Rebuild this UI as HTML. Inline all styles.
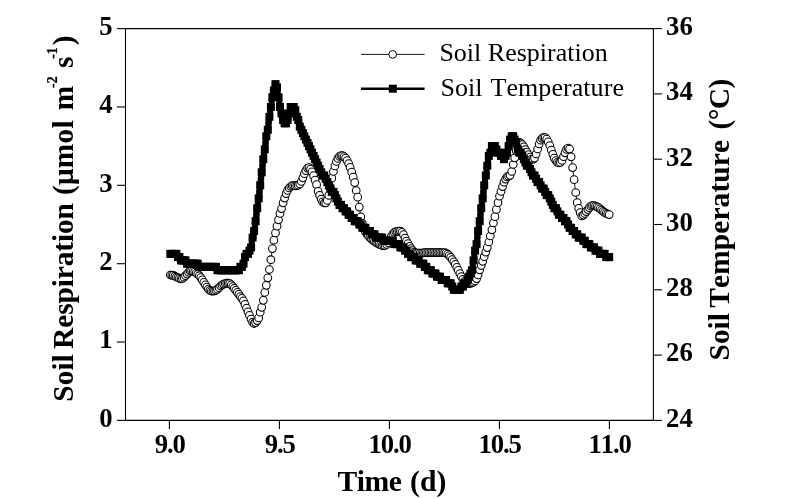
<!DOCTYPE html>
<html lang="en"><head><meta charset="utf-8"><title>Soil Respiration and Soil Temperature</title>
<style>html,body{margin:0;padding:0;background:#fff}svg{display:block}svg{filter:grayscale(1)}text{font-family:"Liberation Serif","Times New Roman",Times,serif;fill:#000;font-kerning:none}.b{font-weight:bold}</style></head><body>
<svg width="800" height="499" viewBox="0 0 800 499">
<rect width="800" height="499" fill="#fff"/>
<polyline fill="none" stroke="#000" stroke-width="0.9" points="170.3,275.0 171.8,275.1 173.3,275.4 174.9,276.2 176.4,277.0 177.9,277.7 179.4,278.4 181.0,278.8 182.5,278.4 184.0,277.2 185.5,275.7 187.1,274.1 188.6,272.3 190.1,271.0 191.6,270.9 193.2,271.4 194.7,272.1 196.2,273.0 197.7,274.2 199.3,275.7 200.8,277.6 202.3,279.9 203.8,282.4 205.4,284.8 206.9,287.0 208.4,289.0 209.9,290.3 211.4,291.0 213.0,291.1 214.5,290.9 216.0,290.2 217.5,289.2 219.1,287.7 220.6,286.0 222.1,284.9 223.6,284.1 225.2,283.5 226.7,283.2 228.2,283.2 229.7,283.6 231.3,284.8 232.8,286.5 234.3,288.4 235.8,290.3 237.4,292.3 238.9,294.4 240.4,296.5 241.9,298.3 243.5,300.8 245.0,304.4 246.5,308.1 248.0,311.8 249.5,315.4 251.1,319.1 252.6,322.2 254.1,323.5 255.6,322.6 257.2,320.6 258.7,317.9 260.2,312.2 261.7,307.3 263.3,300.3 264.8,292.4 266.3,285.3 267.8,277.8 269.4,269.5 270.9,259.7 272.4,248.6 273.9,240.2 275.5,232.9 277.0,226.2 278.5,219.8 280.0,213.4 281.5,208.6 283.1,202.8 284.6,198.1 286.1,193.6 287.6,190.4 289.2,188.0 290.7,186.5 292.2,185.7 293.7,185.7 295.3,185.9 296.8,185.7 298.3,185.2 299.8,183.9 301.4,181.4 302.9,177.8 304.4,173.7 305.9,170.6 307.5,168.1 309.0,167.5 310.5,169.2 312.0,171.8 313.6,175.7 315.1,180.2 316.6,184.7 318.1,191.3 319.6,195.4 321.2,199.0 322.7,201.9 324.2,203.0 325.7,202.8 327.3,200.4 328.8,195.4 330.3,187.0 331.8,178.2 333.4,171.5 334.9,166.0 336.4,161.5 337.9,158.4 339.5,156.4 341.0,155.6 342.5,155.7 344.0,156.6 345.6,158.2 347.1,160.5 348.6,163.6 350.1,167.3 351.7,172.2 353.2,177.2 354.7,182.6 356.2,190.5 357.7,197.2 359.3,207.1 360.8,216.8 362.3,223.4 363.8,228.3 365.4,231.6 366.9,234.1 368.4,236.0 369.9,237.6 371.5,239.1 373.0,240.3 374.5,241.4 376.0,242.4 377.6,243.3 379.1,244.1 380.6,244.8 382.1,245.4 383.7,245.6 385.2,245.5 386.7,244.5 388.2,242.7 389.8,239.6 391.3,236.4 392.8,234.1 394.3,232.4 395.8,231.6 397.4,231.3 398.9,231.1 400.4,231.2 401.9,232.3 403.5,234.7 405.0,238.0 406.5,241.0 408.0,243.7 409.6,246.3 411.1,248.7 412.6,250.6 414.1,252.0 415.7,252.8 417.2,253.1 418.7,253.2 420.2,253.2 421.8,253.0 423.3,252.8 424.8,252.7 426.3,252.5 427.8,252.5 429.4,252.5 430.9,252.5 432.4,252.5 433.9,252.5 435.5,252.5 437.0,252.5 438.5,252.5 440.0,252.5 441.6,252.5 443.1,252.5 444.6,252.7 446.1,253.2 447.7,254.2 449.2,255.6 450.7,257.4 452.2,259.5 453.8,261.8 455.3,264.4 456.8,267.4 458.3,270.4 459.9,273.5 461.4,276.5 462.9,279.3 464.4,281.4 465.9,282.5 467.5,283.2 469.0,283.5 470.5,283.4 472.0,282.9 473.6,282.2 475.1,280.9 476.6,278.6 478.1,274.9 479.7,269.8 481.2,265.5 482.7,261.3 484.2,256.7 485.8,252.1 487.3,247.6 488.8,242.0 490.3,236.0 491.9,229.8 493.4,223.0 494.9,216.7 496.4,209.4 498.0,202.7 499.5,196.2 501.0,191.4 502.5,186.6 504.0,182.2 505.6,179.1 507.1,176.9 508.6,176.2 510.1,175.3 511.7,171.5 513.2,164.5 514.7,157.8 516.2,150.7 517.8,145.2 519.3,142.4 520.8,143.1 522.3,144.7 523.9,146.9 525.4,149.5 526.9,152.0 528.4,154.5 530.0,157.0 531.5,159.0 533.0,159.3 534.5,158.1 536.1,154.0 537.6,149.0 539.1,144.0 540.6,140.2 542.1,138.3 543.7,137.4 545.2,137.7 546.7,139.2 548.2,141.9 549.8,145.5 551.3,150.0 552.8,154.3 554.3,158.1 555.9,160.6 557.4,162.3 558.9,163.0 560.4,162.5 562.0,160.4 563.5,156.7 565.0,152.8 566.5,149.4 568.1,148.1 569.6,149.1 571.1,156.8 572.6,167.6 574.1,179.7 575.7,192.5 577.2,202.7 578.7,208.4 580.2,212.7 581.8,216.0 583.3,215.1 584.8,213.4 586.3,211.6 587.9,209.6 589.4,207.7 590.9,206.2 592.4,205.5 594.0,205.6 595.5,206.1 597.0,206.8 598.5,207.7 600.1,208.8 601.6,210.1 603.1,211.4 604.6,212.4 606.2,213.3 607.7,214.0 609.2,214.6"/>
<g fill="#fff" stroke="#000" stroke-width="1.05">
<circle cx="170.3" cy="275.0" r="3.85"/>
<circle cx="171.8" cy="275.1" r="3.85"/>
<circle cx="173.3" cy="275.4" r="3.85"/>
<circle cx="174.9" cy="276.2" r="3.85"/>
<circle cx="176.4" cy="277.0" r="3.85"/>
<circle cx="177.9" cy="277.7" r="3.85"/>
<circle cx="179.4" cy="278.4" r="3.85"/>
<circle cx="181.0" cy="278.8" r="3.85"/>
<circle cx="182.5" cy="278.4" r="3.85"/>
<circle cx="184.0" cy="277.2" r="3.85"/>
<circle cx="185.5" cy="275.7" r="3.85"/>
<circle cx="187.1" cy="274.1" r="3.85"/>
<circle cx="188.6" cy="272.3" r="3.85"/>
<circle cx="190.1" cy="271.0" r="3.85"/>
<circle cx="191.6" cy="270.9" r="3.85"/>
<circle cx="193.2" cy="271.4" r="3.85"/>
<circle cx="194.7" cy="272.1" r="3.85"/>
<circle cx="196.2" cy="273.0" r="3.85"/>
<circle cx="197.7" cy="274.2" r="3.85"/>
<circle cx="199.3" cy="275.7" r="3.85"/>
<circle cx="200.8" cy="277.6" r="3.85"/>
<circle cx="202.3" cy="279.9" r="3.85"/>
<circle cx="203.8" cy="282.4" r="3.85"/>
<circle cx="205.4" cy="284.8" r="3.85"/>
<circle cx="206.9" cy="287.0" r="3.85"/>
<circle cx="208.4" cy="289.0" r="3.85"/>
<circle cx="209.9" cy="290.3" r="3.85"/>
<circle cx="211.4" cy="291.0" r="3.85"/>
<circle cx="213.0" cy="291.1" r="3.85"/>
<circle cx="214.5" cy="290.9" r="3.85"/>
<circle cx="216.0" cy="290.2" r="3.85"/>
<circle cx="217.5" cy="289.2" r="3.85"/>
<circle cx="219.1" cy="287.7" r="3.85"/>
<circle cx="220.6" cy="286.0" r="3.85"/>
<circle cx="222.1" cy="284.9" r="3.85"/>
<circle cx="223.6" cy="284.1" r="3.85"/>
<circle cx="225.2" cy="283.5" r="3.85"/>
<circle cx="226.7" cy="283.2" r="3.85"/>
<circle cx="228.2" cy="283.2" r="3.85"/>
<circle cx="229.7" cy="283.6" r="3.85"/>
<circle cx="231.3" cy="284.8" r="3.85"/>
<circle cx="232.8" cy="286.5" r="3.85"/>
<circle cx="234.3" cy="288.4" r="3.85"/>
<circle cx="235.8" cy="290.3" r="3.85"/>
<circle cx="237.4" cy="292.3" r="3.85"/>
<circle cx="238.9" cy="294.4" r="3.85"/>
<circle cx="240.4" cy="296.5" r="3.85"/>
<circle cx="241.9" cy="298.3" r="3.85"/>
<circle cx="243.5" cy="300.8" r="3.85"/>
<circle cx="245.0" cy="304.4" r="3.85"/>
<circle cx="246.5" cy="308.1" r="3.85"/>
<circle cx="248.0" cy="311.8" r="3.85"/>
<circle cx="249.5" cy="315.4" r="3.85"/>
<circle cx="251.1" cy="319.1" r="3.85"/>
<circle cx="252.6" cy="322.2" r="3.85"/>
<circle cx="254.1" cy="323.5" r="3.85"/>
<circle cx="255.6" cy="322.6" r="3.85"/>
<circle cx="257.2" cy="320.6" r="3.85"/>
<circle cx="258.7" cy="317.9" r="3.85"/>
<circle cx="260.2" cy="312.2" r="3.85"/>
<circle cx="261.7" cy="307.3" r="3.85"/>
<circle cx="263.3" cy="300.3" r="3.85"/>
<circle cx="264.8" cy="292.4" r="3.85"/>
<circle cx="266.3" cy="285.3" r="3.85"/>
<circle cx="267.8" cy="277.8" r="3.85"/>
<circle cx="269.4" cy="269.5" r="3.85"/>
<circle cx="270.9" cy="259.7" r="3.85"/>
<circle cx="272.4" cy="248.6" r="3.85"/>
<circle cx="273.9" cy="240.2" r="3.85"/>
<circle cx="275.5" cy="232.9" r="3.85"/>
<circle cx="277.0" cy="226.2" r="3.85"/>
<circle cx="278.5" cy="219.8" r="3.85"/>
<circle cx="280.0" cy="213.4" r="3.85"/>
<circle cx="281.5" cy="208.6" r="3.85"/>
<circle cx="283.1" cy="202.8" r="3.85"/>
<circle cx="284.6" cy="198.1" r="3.85"/>
<circle cx="286.1" cy="193.6" r="3.85"/>
<circle cx="287.6" cy="190.4" r="3.85"/>
<circle cx="289.2" cy="188.0" r="3.85"/>
<circle cx="290.7" cy="186.5" r="3.85"/>
<circle cx="292.2" cy="185.7" r="3.85"/>
<circle cx="293.7" cy="185.7" r="3.85"/>
<circle cx="295.3" cy="185.9" r="3.85"/>
<circle cx="296.8" cy="185.7" r="3.85"/>
<circle cx="298.3" cy="185.2" r="3.85"/>
<circle cx="299.8" cy="183.9" r="3.85"/>
<circle cx="301.4" cy="181.4" r="3.85"/>
<circle cx="302.9" cy="177.8" r="3.85"/>
<circle cx="304.4" cy="173.7" r="3.85"/>
<circle cx="305.9" cy="170.6" r="3.85"/>
<circle cx="307.5" cy="168.1" r="3.85"/>
<circle cx="309.0" cy="167.5" r="3.85"/>
<circle cx="310.5" cy="169.2" r="3.85"/>
<circle cx="312.0" cy="171.8" r="3.85"/>
<circle cx="313.6" cy="175.7" r="3.85"/>
<circle cx="315.1" cy="180.2" r="3.85"/>
<circle cx="316.6" cy="184.7" r="3.85"/>
<circle cx="318.1" cy="191.3" r="3.85"/>
<circle cx="319.6" cy="195.4" r="3.85"/>
<circle cx="321.2" cy="199.0" r="3.85"/>
<circle cx="322.7" cy="201.9" r="3.85"/>
<circle cx="324.2" cy="203.0" r="3.85"/>
<circle cx="325.7" cy="202.8" r="3.85"/>
<circle cx="327.3" cy="200.4" r="3.85"/>
<circle cx="328.8" cy="195.4" r="3.85"/>
<circle cx="330.3" cy="187.0" r="3.85"/>
<circle cx="331.8" cy="178.2" r="3.85"/>
<circle cx="333.4" cy="171.5" r="3.85"/>
<circle cx="334.9" cy="166.0" r="3.85"/>
<circle cx="336.4" cy="161.5" r="3.85"/>
<circle cx="337.9" cy="158.4" r="3.85"/>
<circle cx="339.5" cy="156.4" r="3.85"/>
<circle cx="341.0" cy="155.6" r="3.85"/>
<circle cx="342.5" cy="155.7" r="3.85"/>
<circle cx="344.0" cy="156.6" r="3.85"/>
<circle cx="345.6" cy="158.2" r="3.85"/>
<circle cx="347.1" cy="160.5" r="3.85"/>
<circle cx="348.6" cy="163.6" r="3.85"/>
<circle cx="350.1" cy="167.3" r="3.85"/>
<circle cx="351.7" cy="172.2" r="3.85"/>
<circle cx="353.2" cy="177.2" r="3.85"/>
<circle cx="354.7" cy="182.6" r="3.85"/>
<circle cx="356.2" cy="190.5" r="3.85"/>
<circle cx="357.7" cy="197.2" r="3.85"/>
<circle cx="359.3" cy="207.1" r="3.85"/>
<circle cx="360.8" cy="216.8" r="3.85"/>
<circle cx="362.3" cy="223.4" r="3.85"/>
<circle cx="363.8" cy="228.3" r="3.85"/>
<circle cx="365.4" cy="231.6" r="3.85"/>
<circle cx="366.9" cy="234.1" r="3.85"/>
<circle cx="368.4" cy="236.0" r="3.85"/>
<circle cx="369.9" cy="237.6" r="3.85"/>
<circle cx="371.5" cy="239.1" r="3.85"/>
<circle cx="373.0" cy="240.3" r="3.85"/>
<circle cx="374.5" cy="241.4" r="3.85"/>
<circle cx="376.0" cy="242.4" r="3.85"/>
<circle cx="377.6" cy="243.3" r="3.85"/>
<circle cx="379.1" cy="244.1" r="3.85"/>
<circle cx="380.6" cy="244.8" r="3.85"/>
<circle cx="382.1" cy="245.4" r="3.85"/>
<circle cx="383.7" cy="245.6" r="3.85"/>
<circle cx="385.2" cy="245.5" r="3.85"/>
<circle cx="386.7" cy="244.5" r="3.85"/>
<circle cx="388.2" cy="242.7" r="3.85"/>
<circle cx="389.8" cy="239.6" r="3.85"/>
<circle cx="391.3" cy="236.4" r="3.85"/>
<circle cx="392.8" cy="234.1" r="3.85"/>
<circle cx="394.3" cy="232.4" r="3.85"/>
<circle cx="395.8" cy="231.6" r="3.85"/>
<circle cx="397.4" cy="231.3" r="3.85"/>
<circle cx="398.9" cy="231.1" r="3.85"/>
<circle cx="400.4" cy="231.2" r="3.85"/>
<circle cx="401.9" cy="232.3" r="3.85"/>
<circle cx="403.5" cy="234.7" r="3.85"/>
<circle cx="405.0" cy="238.0" r="3.85"/>
<circle cx="406.5" cy="241.0" r="3.85"/>
<circle cx="408.0" cy="243.7" r="3.85"/>
<circle cx="409.6" cy="246.3" r="3.85"/>
<circle cx="411.1" cy="248.7" r="3.85"/>
<circle cx="412.6" cy="250.6" r="3.85"/>
<circle cx="414.1" cy="252.0" r="3.85"/>
<circle cx="415.7" cy="252.8" r="3.85"/>
<circle cx="417.2" cy="253.1" r="3.85"/>
<circle cx="418.7" cy="253.2" r="3.85"/>
<circle cx="420.2" cy="253.2" r="3.85"/>
<circle cx="421.8" cy="253.0" r="3.85"/>
<circle cx="423.3" cy="252.8" r="3.85"/>
<circle cx="424.8" cy="252.7" r="3.85"/>
<circle cx="426.3" cy="252.5" r="3.85"/>
<circle cx="427.8" cy="252.5" r="3.85"/>
<circle cx="429.4" cy="252.5" r="3.85"/>
<circle cx="430.9" cy="252.5" r="3.85"/>
<circle cx="432.4" cy="252.5" r="3.85"/>
<circle cx="433.9" cy="252.5" r="3.85"/>
<circle cx="435.5" cy="252.5" r="3.85"/>
<circle cx="437.0" cy="252.5" r="3.85"/>
<circle cx="438.5" cy="252.5" r="3.85"/>
<circle cx="440.0" cy="252.5" r="3.85"/>
<circle cx="441.6" cy="252.5" r="3.85"/>
<circle cx="443.1" cy="252.5" r="3.85"/>
<circle cx="444.6" cy="252.7" r="3.85"/>
<circle cx="446.1" cy="253.2" r="3.85"/>
<circle cx="447.7" cy="254.2" r="3.85"/>
<circle cx="449.2" cy="255.6" r="3.85"/>
<circle cx="450.7" cy="257.4" r="3.85"/>
<circle cx="452.2" cy="259.5" r="3.85"/>
<circle cx="453.8" cy="261.8" r="3.85"/>
<circle cx="455.3" cy="264.4" r="3.85"/>
<circle cx="456.8" cy="267.4" r="3.85"/>
<circle cx="458.3" cy="270.4" r="3.85"/>
<circle cx="459.9" cy="273.5" r="3.85"/>
<circle cx="461.4" cy="276.5" r="3.85"/>
<circle cx="462.9" cy="279.3" r="3.85"/>
<circle cx="464.4" cy="281.4" r="3.85"/>
<circle cx="465.9" cy="282.5" r="3.85"/>
<circle cx="467.5" cy="283.2" r="3.85"/>
<circle cx="469.0" cy="283.5" r="3.85"/>
<circle cx="470.5" cy="283.4" r="3.85"/>
<circle cx="472.0" cy="282.9" r="3.85"/>
<circle cx="473.6" cy="282.2" r="3.85"/>
<circle cx="475.1" cy="280.9" r="3.85"/>
<circle cx="476.6" cy="278.6" r="3.85"/>
<circle cx="478.1" cy="274.9" r="3.85"/>
<circle cx="479.7" cy="269.8" r="3.85"/>
<circle cx="481.2" cy="265.5" r="3.85"/>
<circle cx="482.7" cy="261.3" r="3.85"/>
<circle cx="484.2" cy="256.7" r="3.85"/>
<circle cx="485.8" cy="252.1" r="3.85"/>
<circle cx="487.3" cy="247.6" r="3.85"/>
<circle cx="488.8" cy="242.0" r="3.85"/>
<circle cx="490.3" cy="236.0" r="3.85"/>
<circle cx="491.9" cy="229.8" r="3.85"/>
<circle cx="493.4" cy="223.0" r="3.85"/>
<circle cx="494.9" cy="216.7" r="3.85"/>
<circle cx="496.4" cy="209.4" r="3.85"/>
<circle cx="498.0" cy="202.7" r="3.85"/>
<circle cx="499.5" cy="196.2" r="3.85"/>
<circle cx="501.0" cy="191.4" r="3.85"/>
<circle cx="502.5" cy="186.6" r="3.85"/>
<circle cx="504.0" cy="182.2" r="3.85"/>
<circle cx="505.6" cy="179.1" r="3.85"/>
<circle cx="507.1" cy="176.9" r="3.85"/>
<circle cx="508.6" cy="176.2" r="3.85"/>
<circle cx="510.1" cy="175.3" r="3.85"/>
<circle cx="511.7" cy="171.5" r="3.85"/>
<circle cx="513.2" cy="164.5" r="3.85"/>
<circle cx="514.7" cy="157.8" r="3.85"/>
<circle cx="516.2" cy="150.7" r="3.85"/>
<circle cx="517.8" cy="145.2" r="3.85"/>
<circle cx="519.3" cy="142.4" r="3.85"/>
<circle cx="520.8" cy="143.1" r="3.85"/>
<circle cx="522.3" cy="144.7" r="3.85"/>
<circle cx="523.9" cy="146.9" r="3.85"/>
<circle cx="525.4" cy="149.5" r="3.85"/>
<circle cx="526.9" cy="152.0" r="3.85"/>
<circle cx="528.4" cy="154.5" r="3.85"/>
<circle cx="530.0" cy="157.0" r="3.85"/>
<circle cx="531.5" cy="159.0" r="3.85"/>
<circle cx="533.0" cy="159.3" r="3.85"/>
<circle cx="534.5" cy="158.1" r="3.85"/>
<circle cx="536.1" cy="154.0" r="3.85"/>
<circle cx="537.6" cy="149.0" r="3.85"/>
<circle cx="539.1" cy="144.0" r="3.85"/>
<circle cx="540.6" cy="140.2" r="3.85"/>
<circle cx="542.1" cy="138.3" r="3.85"/>
<circle cx="543.7" cy="137.4" r="3.85"/>
<circle cx="545.2" cy="137.7" r="3.85"/>
<circle cx="546.7" cy="139.2" r="3.85"/>
<circle cx="548.2" cy="141.9" r="3.85"/>
<circle cx="549.8" cy="145.5" r="3.85"/>
<circle cx="551.3" cy="150.0" r="3.85"/>
<circle cx="552.8" cy="154.3" r="3.85"/>
<circle cx="554.3" cy="158.1" r="3.85"/>
<circle cx="555.9" cy="160.6" r="3.85"/>
<circle cx="557.4" cy="162.3" r="3.85"/>
<circle cx="558.9" cy="163.0" r="3.85"/>
<circle cx="560.4" cy="162.5" r="3.85"/>
<circle cx="562.0" cy="160.4" r="3.85"/>
<circle cx="563.5" cy="156.7" r="3.85"/>
<circle cx="565.0" cy="152.8" r="3.85"/>
<circle cx="566.5" cy="149.4" r="3.85"/>
<circle cx="568.1" cy="148.1" r="3.85"/>
<circle cx="569.6" cy="149.1" r="3.85"/>
<circle cx="571.1" cy="156.8" r="3.85"/>
<circle cx="572.6" cy="167.6" r="3.85"/>
<circle cx="574.1" cy="179.7" r="3.85"/>
<circle cx="575.7" cy="192.5" r="3.85"/>
<circle cx="577.2" cy="202.7" r="3.85"/>
<circle cx="578.7" cy="208.4" r="3.85"/>
<circle cx="580.2" cy="212.7" r="3.85"/>
<circle cx="581.8" cy="216.0" r="3.85"/>
<circle cx="583.3" cy="215.1" r="3.85"/>
<circle cx="584.8" cy="213.4" r="3.85"/>
<circle cx="586.3" cy="211.6" r="3.85"/>
<circle cx="587.9" cy="209.6" r="3.85"/>
<circle cx="589.4" cy="207.7" r="3.85"/>
<circle cx="590.9" cy="206.2" r="3.85"/>
<circle cx="592.4" cy="205.5" r="3.85"/>
<circle cx="594.0" cy="205.6" r="3.85"/>
<circle cx="595.5" cy="206.1" r="3.85"/>
<circle cx="597.0" cy="206.8" r="3.85"/>
<circle cx="598.5" cy="207.7" r="3.85"/>
<circle cx="600.1" cy="208.8" r="3.85"/>
<circle cx="601.6" cy="210.1" r="3.85"/>
<circle cx="603.1" cy="211.4" r="3.85"/>
<circle cx="604.6" cy="212.4" r="3.85"/>
<circle cx="606.2" cy="213.3" r="3.85"/>
<circle cx="607.7" cy="214.0" r="3.85"/>
<circle cx="609.2" cy="214.6" r="3.85"/>
</g>
<polyline fill="none" stroke="#000" stroke-width="2.5" points="170.3,253.9 171.8,253.9 173.3,253.9 174.9,253.9 176.4,253.9 177.9,257.1 179.4,257.1 181.0,260.4 182.5,260.4 184.0,260.4 185.5,260.4 187.1,263.7 188.6,263.7 190.1,263.7 191.6,263.7 193.2,263.7 194.7,263.7 196.2,263.7 197.7,263.7 199.3,266.9 200.8,266.9 202.3,266.9 203.8,266.9 205.4,266.9 206.9,266.9 208.4,266.9 209.9,266.9 211.4,266.9 213.0,266.9 214.5,266.9 216.0,266.9 217.5,270.2 219.1,270.2 220.6,270.2 222.1,270.2 223.6,270.2 225.2,270.2 226.7,270.2 228.2,270.2 229.7,270.2 231.3,270.2 232.8,270.2 234.3,270.2 235.8,270.2 237.4,270.2 238.9,270.2 240.4,266.9 241.9,266.9 243.5,263.7 245.0,257.1 246.5,253.9 248.0,253.9 249.5,250.6 251.1,247.4 252.6,237.6 254.1,231.0 255.6,221.2 257.2,208.2 258.7,198.4 260.2,185.3 261.7,172.3 263.3,159.2 264.8,149.4 266.3,136.3 267.8,129.8 269.4,116.8 270.9,107.0 272.4,97.2 273.9,90.6 275.5,84.1 277.0,87.4 278.5,97.2 280.0,107.0 281.5,113.5 283.1,120.0 284.6,123.3 286.1,123.3 287.6,120.0 289.2,113.5 290.7,107.0 292.2,107.0 293.7,107.0 295.3,110.2 296.8,116.8 298.3,120.0 299.8,126.6 301.4,129.8 302.9,133.1 304.4,136.3 305.9,139.6 307.5,142.9 309.0,146.1 310.5,149.4 312.0,152.7 313.6,155.9 315.1,159.2 316.6,162.5 318.1,165.7 319.6,169.0 321.2,172.3 322.7,175.5 324.2,175.5 325.7,178.8 327.3,182.1 328.8,185.3 330.3,188.6 331.8,191.9 333.4,191.9 334.9,195.1 336.4,198.4 337.9,201.6 339.5,204.9 341.0,204.9 342.5,208.2 344.0,208.2 345.6,211.4 347.1,211.4 348.6,214.7 350.1,214.7 351.7,218.0 353.2,218.0 354.7,221.2 356.2,221.2 357.7,221.2 359.3,224.5 360.8,224.5 362.3,227.8 363.8,227.8 365.4,227.8 366.9,231.0 368.4,231.0 369.9,231.0 371.5,234.3 373.0,234.3 374.5,234.3 376.0,237.6 377.6,237.6 379.1,237.6 380.6,237.6 382.1,237.6 383.7,240.8 385.2,240.8 386.7,240.8 388.2,240.8 389.8,240.8 391.3,240.8 392.8,240.8 394.3,244.1 395.8,244.1 397.4,244.1 398.9,244.1 400.4,247.4 401.9,247.4 403.5,247.4 405.0,250.6 406.5,250.6 408.0,253.9 409.6,253.9 411.1,257.1 412.6,257.1 414.1,257.1 415.7,260.4 417.2,260.4 418.7,260.4 420.2,263.7 421.8,263.7 423.3,263.7 424.8,266.9 426.3,266.9 427.8,270.2 429.4,270.2 430.9,270.2 432.4,273.5 433.9,273.5 435.5,273.5 437.0,276.7 438.5,276.7 440.0,276.7 441.6,280.0 443.1,280.0 444.6,280.0 446.1,280.0 447.7,283.3 449.2,283.3 450.7,283.3 452.2,286.5 453.8,289.8 455.3,289.8 456.8,289.8 458.3,289.8 459.9,289.8 461.4,286.5 462.9,286.5 464.4,283.3 465.9,283.3 467.5,280.0 469.0,276.7 470.5,273.5 472.0,270.2 473.6,260.4 475.1,250.6 476.6,244.1 478.1,231.0 479.7,221.2 481.2,208.2 482.7,198.4 484.2,185.3 485.8,175.5 487.3,165.7 488.8,155.9 490.3,152.7 491.9,146.1 493.4,146.1 494.9,146.1 496.4,149.4 498.0,152.7 499.5,152.7 501.0,155.9 502.5,155.9 504.0,159.2 505.6,155.9 507.1,152.7 508.6,146.1 510.1,139.6 511.7,136.3 513.2,136.3 514.7,139.6 516.2,142.9 517.8,149.4 519.3,152.7 520.8,152.7 522.3,155.9 523.9,159.2 525.4,162.5 526.9,165.7 528.4,165.7 530.0,169.0 531.5,172.3 533.0,175.5 534.5,175.5 536.1,178.8 537.6,182.1 539.1,182.1 540.6,185.3 542.1,188.6 543.7,188.6 545.2,191.9 546.7,195.1 548.2,195.1 549.8,198.4 551.3,201.6 552.8,204.9 554.3,208.2 555.9,208.2 557.4,211.4 558.9,214.7 560.4,214.7 562.0,218.0 563.5,218.0 565.0,221.2 566.5,221.2 568.1,224.5 569.6,227.8 571.1,227.8 572.6,231.0 574.1,231.0 575.7,234.3 577.2,234.3 578.7,237.6 580.2,237.6 581.8,237.6 583.3,240.8 584.8,240.8 586.3,244.1 587.9,244.1 589.4,244.1 590.9,247.4 592.4,247.4 594.0,247.4 595.5,250.6 597.0,250.6 598.5,250.6 600.1,253.9 601.6,253.9 603.1,253.9 604.6,253.9 606.2,257.1 607.7,257.1 609.2,257.1"/>
<g fill="#000">
<rect x="166.3" y="249.9" width="8" height="8"/>
<rect x="167.8" y="249.9" width="8" height="8"/>
<rect x="169.3" y="249.9" width="8" height="8"/>
<rect x="170.9" y="249.9" width="8" height="8"/>
<rect x="172.4" y="249.9" width="8" height="8"/>
<rect x="173.9" y="253.1" width="8" height="8"/>
<rect x="175.4" y="253.1" width="8" height="8"/>
<rect x="177.0" y="256.4" width="8" height="8"/>
<rect x="178.5" y="256.4" width="8" height="8"/>
<rect x="180.0" y="256.4" width="8" height="8"/>
<rect x="181.5" y="256.4" width="8" height="8"/>
<rect x="183.1" y="259.7" width="8" height="8"/>
<rect x="184.6" y="259.7" width="8" height="8"/>
<rect x="186.1" y="259.7" width="8" height="8"/>
<rect x="187.6" y="259.7" width="8" height="8"/>
<rect x="189.2" y="259.7" width="8" height="8"/>
<rect x="190.7" y="259.7" width="8" height="8"/>
<rect x="192.2" y="259.7" width="8" height="8"/>
<rect x="193.7" y="259.7" width="8" height="8"/>
<rect x="195.3" y="262.9" width="8" height="8"/>
<rect x="196.8" y="262.9" width="8" height="8"/>
<rect x="198.3" y="262.9" width="8" height="8"/>
<rect x="199.8" y="262.9" width="8" height="8"/>
<rect x="201.4" y="262.9" width="8" height="8"/>
<rect x="202.9" y="262.9" width="8" height="8"/>
<rect x="204.4" y="262.9" width="8" height="8"/>
<rect x="205.9" y="262.9" width="8" height="8"/>
<rect x="207.4" y="262.9" width="8" height="8"/>
<rect x="209.0" y="262.9" width="8" height="8"/>
<rect x="210.5" y="262.9" width="8" height="8"/>
<rect x="212.0" y="262.9" width="8" height="8"/>
<rect x="213.5" y="266.2" width="8" height="8"/>
<rect x="215.1" y="266.2" width="8" height="8"/>
<rect x="216.6" y="266.2" width="8" height="8"/>
<rect x="218.1" y="266.2" width="8" height="8"/>
<rect x="219.6" y="266.2" width="8" height="8"/>
<rect x="221.2" y="266.2" width="8" height="8"/>
<rect x="222.7" y="266.2" width="8" height="8"/>
<rect x="224.2" y="266.2" width="8" height="8"/>
<rect x="225.7" y="266.2" width="8" height="8"/>
<rect x="227.3" y="266.2" width="8" height="8"/>
<rect x="228.8" y="266.2" width="8" height="8"/>
<rect x="230.3" y="266.2" width="8" height="8"/>
<rect x="231.8" y="266.2" width="8" height="8"/>
<rect x="233.4" y="266.2" width="8" height="8"/>
<rect x="234.9" y="266.2" width="8" height="8"/>
<rect x="236.4" y="262.9" width="8" height="8"/>
<rect x="237.9" y="262.9" width="8" height="8"/>
<rect x="239.5" y="259.7" width="8" height="8"/>
<rect x="241.2" y="256.4" width="6" height="8"/>
<rect x="241.0" y="253.1" width="8" height="8"/>
<rect x="242.5" y="249.9" width="8" height="8"/>
<rect x="244.0" y="249.9" width="8" height="8"/>
<rect x="245.5" y="246.6" width="8" height="8"/>
<rect x="247.1" y="243.4" width="8" height="8"/>
<rect x="248.8" y="238.5" width="6" height="8"/>
<rect x="248.6" y="233.6" width="8" height="8"/>
<rect x="250.4" y="230.3" width="6" height="8"/>
<rect x="250.1" y="227.0" width="8" height="8"/>
<rect x="251.9" y="222.1" width="6" height="8"/>
<rect x="251.6" y="217.2" width="8" height="8"/>
<rect x="253.1" y="212.9" width="6" height="8"/>
<rect x="253.7" y="208.5" width="6" height="8"/>
<rect x="253.2" y="204.2" width="8" height="8"/>
<rect x="254.9" y="199.3" width="6" height="8"/>
<rect x="254.7" y="194.4" width="8" height="8"/>
<rect x="256.2" y="190.0" width="6" height="8"/>
<rect x="256.7" y="185.7" width="6" height="8"/>
<rect x="256.2" y="181.3" width="8" height="8"/>
<rect x="257.7" y="177.0" width="6" height="8"/>
<rect x="258.2" y="172.6" width="6" height="8"/>
<rect x="257.7" y="168.3" width="8" height="8"/>
<rect x="259.2" y="163.9" width="6" height="8"/>
<rect x="259.8" y="159.6" width="6" height="8"/>
<rect x="259.3" y="155.2" width="8" height="8"/>
<rect x="261.0" y="150.3" width="6" height="8"/>
<rect x="260.8" y="145.4" width="8" height="8"/>
<rect x="262.3" y="141.1" width="6" height="8"/>
<rect x="262.8" y="136.7" width="6" height="8"/>
<rect x="262.3" y="132.3" width="8" height="8"/>
<rect x="264.1" y="129.1" width="6" height="8"/>
<rect x="263.8" y="125.8" width="8" height="8"/>
<rect x="265.3" y="121.5" width="6" height="8"/>
<rect x="265.8" y="117.1" width="6" height="8"/>
<rect x="265.4" y="112.8" width="8" height="8"/>
<rect x="267.1" y="107.9" width="6" height="8"/>
<rect x="266.9" y="103.0" width="8" height="8"/>
<rect x="268.6" y="98.1" width="6" height="8"/>
<rect x="268.4" y="93.2" width="8" height="8"/>
<rect x="270.2" y="89.9" width="6" height="8"/>
<rect x="269.9" y="86.6" width="8" height="8"/>
<rect x="271.7" y="83.4" width="6" height="8"/>
<rect x="271.5" y="80.1" width="8" height="8"/>
<rect x="273.0" y="83.4" width="8" height="8"/>
<rect x="274.7" y="88.3" width="6" height="8"/>
<rect x="274.5" y="93.2" width="8" height="8"/>
<rect x="276.3" y="98.1" width="6" height="8"/>
<rect x="276.0" y="103.0" width="8" height="8"/>
<rect x="277.8" y="106.2" width="6" height="8"/>
<rect x="277.5" y="109.5" width="8" height="8"/>
<rect x="279.3" y="112.8" width="6" height="8"/>
<rect x="279.1" y="116.0" width="8" height="8"/>
<rect x="280.6" y="119.3" width="8" height="8"/>
<rect x="282.1" y="119.3" width="8" height="8"/>
<rect x="283.6" y="116.0" width="8" height="8"/>
<rect x="285.4" y="112.8" width="6" height="8"/>
<rect x="285.2" y="109.5" width="8" height="8"/>
<rect x="286.9" y="106.2" width="6" height="8"/>
<rect x="286.7" y="103.0" width="8" height="8"/>
<rect x="288.2" y="103.0" width="8" height="8"/>
<rect x="289.7" y="103.0" width="8" height="8"/>
<rect x="291.3" y="106.2" width="8" height="8"/>
<rect x="293.0" y="109.5" width="6" height="8"/>
<rect x="292.8" y="112.8" width="8" height="8"/>
<rect x="294.3" y="116.0" width="8" height="8"/>
<rect x="296.1" y="119.3" width="6" height="8"/>
<rect x="295.8" y="122.6" width="8" height="8"/>
<rect x="297.4" y="125.8" width="8" height="8"/>
<rect x="298.9" y="129.1" width="8" height="8"/>
<rect x="300.4" y="132.3" width="8" height="8"/>
<rect x="301.9" y="135.6" width="8" height="8"/>
<rect x="303.5" y="138.9" width="8" height="8"/>
<rect x="305.0" y="142.1" width="8" height="8"/>
<rect x="306.5" y="145.4" width="8" height="8"/>
<rect x="308.0" y="148.7" width="8" height="8"/>
<rect x="309.6" y="151.9" width="8" height="8"/>
<rect x="311.1" y="155.2" width="8" height="8"/>
<rect x="312.6" y="158.5" width="8" height="8"/>
<rect x="314.1" y="161.7" width="8" height="8"/>
<rect x="315.6" y="165.0" width="8" height="8"/>
<rect x="317.2" y="168.3" width="8" height="8"/>
<rect x="318.7" y="171.5" width="8" height="8"/>
<rect x="320.2" y="171.5" width="8" height="8"/>
<rect x="321.7" y="174.8" width="8" height="8"/>
<rect x="323.3" y="178.1" width="8" height="8"/>
<rect x="324.8" y="181.3" width="8" height="8"/>
<rect x="326.3" y="184.6" width="8" height="8"/>
<rect x="327.8" y="187.9" width="8" height="8"/>
<rect x="329.4" y="187.9" width="8" height="8"/>
<rect x="330.9" y="191.1" width="8" height="8"/>
<rect x="332.4" y="194.4" width="8" height="8"/>
<rect x="333.9" y="197.6" width="8" height="8"/>
<rect x="335.5" y="200.9" width="8" height="8"/>
<rect x="337.0" y="200.9" width="8" height="8"/>
<rect x="338.5" y="204.2" width="8" height="8"/>
<rect x="340.0" y="204.2" width="8" height="8"/>
<rect x="341.6" y="207.4" width="8" height="8"/>
<rect x="343.1" y="207.4" width="8" height="8"/>
<rect x="344.6" y="210.7" width="8" height="8"/>
<rect x="346.1" y="210.7" width="8" height="8"/>
<rect x="347.7" y="214.0" width="8" height="8"/>
<rect x="349.2" y="214.0" width="8" height="8"/>
<rect x="350.7" y="217.2" width="8" height="8"/>
<rect x="352.2" y="217.2" width="8" height="8"/>
<rect x="353.7" y="217.2" width="8" height="8"/>
<rect x="355.3" y="220.5" width="8" height="8"/>
<rect x="356.8" y="220.5" width="8" height="8"/>
<rect x="358.3" y="223.8" width="8" height="8"/>
<rect x="359.8" y="223.8" width="8" height="8"/>
<rect x="361.4" y="223.8" width="8" height="8"/>
<rect x="362.9" y="227.0" width="8" height="8"/>
<rect x="364.4" y="227.0" width="8" height="8"/>
<rect x="365.9" y="227.0" width="8" height="8"/>
<rect x="367.5" y="230.3" width="8" height="8"/>
<rect x="369.0" y="230.3" width="8" height="8"/>
<rect x="370.5" y="230.3" width="8" height="8"/>
<rect x="372.0" y="233.6" width="8" height="8"/>
<rect x="373.6" y="233.6" width="8" height="8"/>
<rect x="375.1" y="233.6" width="8" height="8"/>
<rect x="376.6" y="233.6" width="8" height="8"/>
<rect x="378.1" y="233.6" width="8" height="8"/>
<rect x="379.7" y="236.8" width="8" height="8"/>
<rect x="381.2" y="236.8" width="8" height="8"/>
<rect x="382.7" y="236.8" width="8" height="8"/>
<rect x="384.2" y="236.8" width="8" height="8"/>
<rect x="385.8" y="236.8" width="8" height="8"/>
<rect x="387.3" y="236.8" width="8" height="8"/>
<rect x="388.8" y="236.8" width="8" height="8"/>
<rect x="390.3" y="240.1" width="8" height="8"/>
<rect x="391.8" y="240.1" width="8" height="8"/>
<rect x="393.4" y="240.1" width="8" height="8"/>
<rect x="394.9" y="240.1" width="8" height="8"/>
<rect x="396.4" y="243.4" width="8" height="8"/>
<rect x="397.9" y="243.4" width="8" height="8"/>
<rect x="399.5" y="243.4" width="8" height="8"/>
<rect x="401.0" y="246.6" width="8" height="8"/>
<rect x="402.5" y="246.6" width="8" height="8"/>
<rect x="404.0" y="249.9" width="8" height="8"/>
<rect x="405.6" y="249.9" width="8" height="8"/>
<rect x="407.1" y="253.1" width="8" height="8"/>
<rect x="408.6" y="253.1" width="8" height="8"/>
<rect x="410.1" y="253.1" width="8" height="8"/>
<rect x="411.7" y="256.4" width="8" height="8"/>
<rect x="413.2" y="256.4" width="8" height="8"/>
<rect x="414.7" y="256.4" width="8" height="8"/>
<rect x="416.2" y="259.7" width="8" height="8"/>
<rect x="417.8" y="259.7" width="8" height="8"/>
<rect x="419.3" y="259.7" width="8" height="8"/>
<rect x="420.8" y="262.9" width="8" height="8"/>
<rect x="422.3" y="262.9" width="8" height="8"/>
<rect x="423.8" y="266.2" width="8" height="8"/>
<rect x="425.4" y="266.2" width="8" height="8"/>
<rect x="426.9" y="266.2" width="8" height="8"/>
<rect x="428.4" y="269.5" width="8" height="8"/>
<rect x="429.9" y="269.5" width="8" height="8"/>
<rect x="431.5" y="269.5" width="8" height="8"/>
<rect x="433.0" y="272.7" width="8" height="8"/>
<rect x="434.5" y="272.7" width="8" height="8"/>
<rect x="436.0" y="272.7" width="8" height="8"/>
<rect x="437.6" y="276.0" width="8" height="8"/>
<rect x="439.1" y="276.0" width="8" height="8"/>
<rect x="440.6" y="276.0" width="8" height="8"/>
<rect x="442.1" y="276.0" width="8" height="8"/>
<rect x="443.7" y="279.3" width="8" height="8"/>
<rect x="445.2" y="279.3" width="8" height="8"/>
<rect x="446.7" y="279.3" width="8" height="8"/>
<rect x="448.2" y="282.5" width="8" height="8"/>
<rect x="449.8" y="285.8" width="8" height="8"/>
<rect x="451.3" y="285.8" width="8" height="8"/>
<rect x="452.8" y="285.8" width="8" height="8"/>
<rect x="454.3" y="285.8" width="8" height="8"/>
<rect x="455.9" y="285.8" width="8" height="8"/>
<rect x="457.4" y="282.5" width="8" height="8"/>
<rect x="458.9" y="282.5" width="8" height="8"/>
<rect x="460.4" y="279.3" width="8" height="8"/>
<rect x="461.9" y="279.3" width="8" height="8"/>
<rect x="463.5" y="276.0" width="8" height="8"/>
<rect x="465.0" y="272.7" width="8" height="8"/>
<rect x="466.5" y="269.5" width="8" height="8"/>
<rect x="468.0" y="266.2" width="8" height="8"/>
<rect x="469.8" y="261.3" width="6" height="8"/>
<rect x="469.6" y="256.4" width="8" height="8"/>
<rect x="471.3" y="251.5" width="6" height="8"/>
<rect x="471.1" y="246.6" width="8" height="8"/>
<rect x="472.9" y="243.4" width="6" height="8"/>
<rect x="472.6" y="240.1" width="8" height="8"/>
<rect x="474.1" y="235.7" width="6" height="8"/>
<rect x="474.6" y="231.4" width="6" height="8"/>
<rect x="474.1" y="227.0" width="8" height="8"/>
<rect x="475.9" y="222.1" width="6" height="8"/>
<rect x="475.7" y="217.2" width="8" height="8"/>
<rect x="477.2" y="212.9" width="6" height="8"/>
<rect x="477.7" y="208.5" width="6" height="8"/>
<rect x="477.2" y="204.2" width="8" height="8"/>
<rect x="478.9" y="199.3" width="6" height="8"/>
<rect x="478.7" y="194.4" width="8" height="8"/>
<rect x="480.2" y="190.0" width="6" height="8"/>
<rect x="480.7" y="185.7" width="6" height="8"/>
<rect x="480.2" y="181.3" width="8" height="8"/>
<rect x="482.0" y="176.4" width="6" height="8"/>
<rect x="481.8" y="171.5" width="8" height="8"/>
<rect x="483.5" y="166.6" width="6" height="8"/>
<rect x="483.3" y="161.7" width="8" height="8"/>
<rect x="485.0" y="156.8" width="6" height="8"/>
<rect x="484.8" y="151.9" width="8" height="8"/>
<rect x="486.3" y="148.7" width="8" height="8"/>
<rect x="488.1" y="145.4" width="6" height="8"/>
<rect x="487.9" y="142.1" width="8" height="8"/>
<rect x="489.4" y="142.1" width="8" height="8"/>
<rect x="490.9" y="142.1" width="8" height="8"/>
<rect x="492.4" y="145.4" width="8" height="8"/>
<rect x="494.0" y="148.7" width="8" height="8"/>
<rect x="495.5" y="148.7" width="8" height="8"/>
<rect x="497.0" y="151.9" width="8" height="8"/>
<rect x="498.5" y="151.9" width="8" height="8"/>
<rect x="500.0" y="155.2" width="8" height="8"/>
<rect x="501.6" y="151.9" width="8" height="8"/>
<rect x="503.1" y="148.7" width="8" height="8"/>
<rect x="504.9" y="145.4" width="6" height="8"/>
<rect x="504.6" y="142.1" width="8" height="8"/>
<rect x="506.4" y="138.9" width="6" height="8"/>
<rect x="506.1" y="135.6" width="8" height="8"/>
<rect x="507.7" y="132.3" width="8" height="8"/>
<rect x="509.2" y="132.3" width="8" height="8"/>
<rect x="510.7" y="135.6" width="8" height="8"/>
<rect x="512.2" y="138.9" width="8" height="8"/>
<rect x="514.0" y="142.1" width="6" height="8"/>
<rect x="513.8" y="145.4" width="8" height="8"/>
<rect x="515.3" y="148.7" width="8" height="8"/>
<rect x="516.8" y="148.7" width="8" height="8"/>
<rect x="518.3" y="151.9" width="8" height="8"/>
<rect x="519.9" y="155.2" width="8" height="8"/>
<rect x="521.4" y="158.5" width="8" height="8"/>
<rect x="522.9" y="161.7" width="8" height="8"/>
<rect x="524.4" y="161.7" width="8" height="8"/>
<rect x="526.0" y="165.0" width="8" height="8"/>
<rect x="527.5" y="168.3" width="8" height="8"/>
<rect x="529.0" y="171.5" width="8" height="8"/>
<rect x="530.5" y="171.5" width="8" height="8"/>
<rect x="532.1" y="174.8" width="8" height="8"/>
<rect x="533.6" y="178.1" width="8" height="8"/>
<rect x="535.1" y="178.1" width="8" height="8"/>
<rect x="536.6" y="181.3" width="8" height="8"/>
<rect x="538.1" y="184.6" width="8" height="8"/>
<rect x="539.7" y="184.6" width="8" height="8"/>
<rect x="541.2" y="187.9" width="8" height="8"/>
<rect x="542.7" y="191.1" width="8" height="8"/>
<rect x="544.2" y="191.1" width="8" height="8"/>
<rect x="545.8" y="194.4" width="8" height="8"/>
<rect x="547.3" y="197.6" width="8" height="8"/>
<rect x="548.8" y="200.9" width="8" height="8"/>
<rect x="550.3" y="204.2" width="8" height="8"/>
<rect x="551.9" y="204.2" width="8" height="8"/>
<rect x="553.4" y="207.4" width="8" height="8"/>
<rect x="554.9" y="210.7" width="8" height="8"/>
<rect x="556.4" y="210.7" width="8" height="8"/>
<rect x="558.0" y="214.0" width="8" height="8"/>
<rect x="559.5" y="214.0" width="8" height="8"/>
<rect x="561.0" y="217.2" width="8" height="8"/>
<rect x="562.5" y="217.2" width="8" height="8"/>
<rect x="564.1" y="220.5" width="8" height="8"/>
<rect x="565.6" y="223.8" width="8" height="8"/>
<rect x="567.1" y="223.8" width="8" height="8"/>
<rect x="568.6" y="227.0" width="8" height="8"/>
<rect x="570.1" y="227.0" width="8" height="8"/>
<rect x="571.7" y="230.3" width="8" height="8"/>
<rect x="573.2" y="230.3" width="8" height="8"/>
<rect x="574.7" y="233.6" width="8" height="8"/>
<rect x="576.2" y="233.6" width="8" height="8"/>
<rect x="577.8" y="233.6" width="8" height="8"/>
<rect x="579.3" y="236.8" width="8" height="8"/>
<rect x="580.8" y="236.8" width="8" height="8"/>
<rect x="582.3" y="240.1" width="8" height="8"/>
<rect x="583.9" y="240.1" width="8" height="8"/>
<rect x="585.4" y="240.1" width="8" height="8"/>
<rect x="586.9" y="243.4" width="8" height="8"/>
<rect x="588.4" y="243.4" width="8" height="8"/>
<rect x="590.0" y="243.4" width="8" height="8"/>
<rect x="591.5" y="246.6" width="8" height="8"/>
<rect x="593.0" y="246.6" width="8" height="8"/>
<rect x="594.5" y="246.6" width="8" height="8"/>
<rect x="596.1" y="249.9" width="8" height="8"/>
<rect x="597.6" y="249.9" width="8" height="8"/>
<rect x="599.1" y="249.9" width="8" height="8"/>
<rect x="600.6" y="249.9" width="8" height="8"/>
<rect x="602.2" y="253.1" width="8" height="8"/>
<rect x="603.7" y="253.1" width="8" height="8"/>
<rect x="605.2" y="253.1" width="8" height="8"/>
</g>
<g stroke="#000" stroke-width="1.1" fill="none">
<path d="M125.5 28.6 H653.4 V420.4 H125.5 Z"/>
<path d="M116.9 420.4 H125.5"/>
<path d="M116.9 342.0 H125.5"/>
<path d="M116.9 263.7 H125.5"/>
<path d="M116.9 185.3 H125.5"/>
<path d="M116.9 107.0 H125.5"/>
<path d="M116.9 28.6 H125.5"/>
<path d="M653.4 420.4 H662.0"/>
<path d="M653.4 355.1 H662.0"/>
<path d="M653.4 289.8 H662.0"/>
<path d="M653.4 224.5 H662.0"/>
<path d="M653.4 159.2 H662.0"/>
<path d="M653.4 93.9 H662.0"/>
<path d="M653.4 28.6 H662.0"/>
<path d="M169.4 420.4 V429.0"/>
<path d="M279.4 420.4 V429.0"/>
<path d="M389.4 420.4 V429.0"/>
<path d="M499.4 420.4 V429.0"/>
<path d="M609.4 420.4 V429.0"/>
</g>
<g class="b" font-size="26.7">
<text x="112.5" y="426.7" text-anchor="end">0</text>
<text x="112.5" y="348.3" text-anchor="end">1</text>
<text x="112.5" y="270.0" text-anchor="end">2</text>
<text x="112.5" y="191.6" text-anchor="end">3</text>
<text x="112.5" y="113.3" text-anchor="end">4</text>
<text x="112.5" y="34.9" text-anchor="end">5</text>
<text x="666.1" y="426.7">24</text>
<text x="666.1" y="361.4">26</text>
<text x="666.1" y="296.1">28</text>
<text x="666.1" y="230.8">30</text>
<text x="666.1" y="165.5">32</text>
<text x="666.1" y="100.2">34</text>
<text x="666.1" y="34.9">36</text>
<text x="169.7" y="452.8" text-anchor="middle" letter-spacing="-1.1">9.0</text>
<text x="279.7" y="452.8" text-anchor="middle" letter-spacing="-1.1">9.5</text>
<text x="389.7" y="452.8" text-anchor="middle" letter-spacing="-1.1">10.0</text>
<text x="499.7" y="452.8" text-anchor="middle" letter-spacing="-1.1">10.5</text>
<text x="609.7" y="452.8" text-anchor="middle" letter-spacing="-1.1">11.0</text>
</g>
<text class="b" font-size="29.7" x="391.9" y="490.9" text-anchor="middle"><tspan letter-spacing="-0.5">Time</tspan><tspan dx="1.3"> (d)</tspan></text>
<text class="b" font-size="29.4" transform="translate(73.2 218.5) rotate(-90)" text-anchor="middle">Soil <tspan dx="-2" letter-spacing="-0.114">Respiration</tspan> <tspan dx="0.75" letter-spacing="0.25">(μmol</tspan> <tspan dx="2.5">m</tspan><tspan font-size="13.8" stroke="#000" stroke-width="0.25" dx="-2.25" dy="-15.8">-2</tspan><tspan dx="1" dy="15.8"> s</tspan><tspan font-size="13.8" stroke="#000" stroke-width="0.25" dx="-2.2" dy="-15.8">-1</tspan><tspan dx="2.2" dy="15.8">)</tspan></text>
<text class="b" font-size="29.4" transform="translate(728.6 219.9) rotate(-90)" text-anchor="middle">Soil <tspan dx="-1.9" letter-spacing="0.11">Temperature</tspan> <tspan dx="3.1" letter-spacing="-0.6">(°C)</tspan></text>
<path d="M361 54.4 H424.6" stroke="#000" stroke-width="0.9"/>
<circle cx="392.7" cy="54.4" r="3.85" fill="#fff" stroke="#000" stroke-width="1"/>
<path d="M361 88.7 H424.6" stroke="#000" stroke-width="2.5"/>
<rect x="388.8" y="84.7" width="8" height="8" fill="#000"/>
<text font-size="26" x="439.4" y="61.1">Soil Respiration</text>
<text font-size="26" x="440.4" y="95.6" letter-spacing="0.06">Soil <tspan dx="1.4">Temperature</tspan></text>
</svg></body></html>
